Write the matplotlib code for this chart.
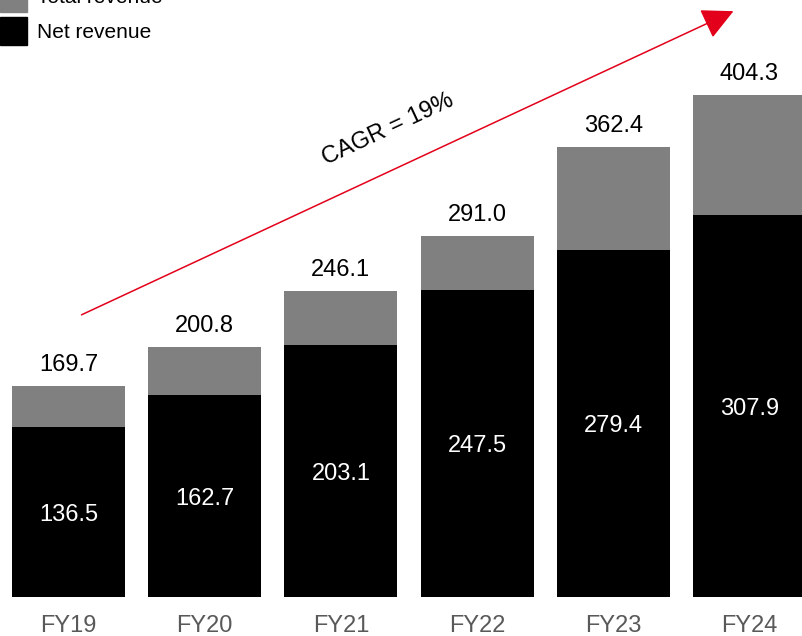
import matplotlib
import matplotlib.pyplot as plt
from matplotlib.patches import Rectangle, FancyArrowPatch

matplotlib.use('AGG')

# Net vs total revenue by fiscal year, stacked bars with a CAGR arrow
years = ['FY19', 'FY20', 'FY21', 'FY22', 'FY23', 'FY24']
total_revenue = [169.7, 200.8, 246.1, 291.0, 362.4, 404.3]
net_revenue = [136.5, 162.7, 203.1, 247.5, 279.4, 307.9]
cagr_label = 'CAGR = 19%'

W, H = 803, 636
GREY = '#808080'
RED = '#e3001b'
plt.rcParams['font.family'] = ['Liberation Sans', 'DejaVu Sans']

fig = plt.figure(figsize=(W / 100, H / 100), dpi=100)
ax = fig.add_axes([0, 0, 1, 1])
ax.axis('off')

# pixel mapping: bar i centred at 68.5 + 136.2*i, value 0 at y=596.5, 1.2404 px/unit
step = 136.2
scale = 1.2404
ax.set_xlim(-68.5 / step, (W - 68.5) / step)
ax.set_ylim(-(H - 596.5) / scale, 596.5 / scale)

x = range(len(years))
extra = [t - n for t, n in zip(total_revenue, net_revenue)]
ax.bar(x, net_revenue, width=0.83, color='black')
ax.bar(x, extra, bottom=net_revenue, width=0.83, color=GREY)

for i, (t, n) in enumerate(zip(total_revenue, net_revenue)):
    ax.text(i, t + 21 / scale, f'{t:.1f}', ha='center', va='center', fontsize=17)
    ax.text(i, n / 2 - 3 / scale, f'{n:.1f}', ha='center', va='center', fontsize=17, color='white')
    ax.text(i, -29 / scale, years[i], ha='center', va='center', fontsize=17, color='#595959')


def fp(px, py):
    return (px / W, 1 - py / H)


# legend (partly cut off at the top)
fig.patches.append(Rectangle(fp(0, 12), 27 / W, 28 / H, color=GREY, transform=fig.transFigure))
fig.patches.append(Rectangle(fp(0, 45), 27 / W, 28 / H, color='black', transform=fig.transFigure))
fig.text(*fp(37, -2), 'Total revenue', fontsize=15, va='center')
fig.text(*fp(37, 32), 'Net revenue', fontsize=15, va='center')

# CAGR arrow
arrow = FancyArrowPatch(fp(79, 316), fp(736, 10), transform=fig.transFigure,
                        arrowstyle='-|>,head_length=1.4,head_width=0.7',
                        mutation_scale=14, color=RED, lw=1.1)
fig.patches.append(arrow)
fig.text(*fp(388, 129), cagr_label, fontsize=17, rotation=25,
         ha='center', va='center', rotation_mode='anchor')

plt.savefig('out.png', dpi=100)
